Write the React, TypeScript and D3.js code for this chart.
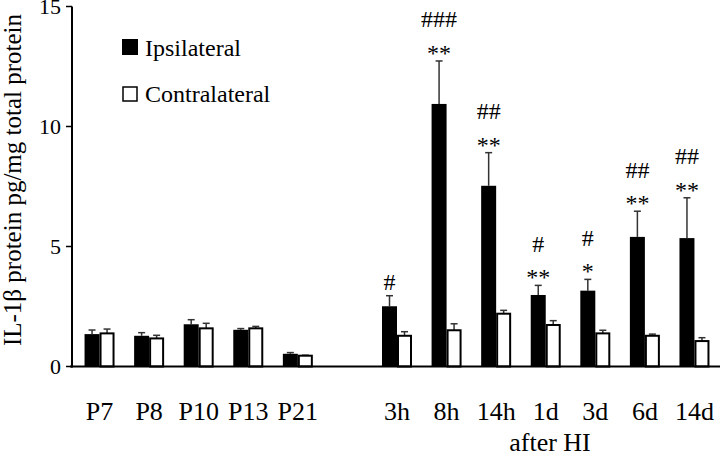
import React from "react";
import * as d3 from "d3";

const categories = ["P7", "P8", "P10", "P13", "P21", "3h", "8h", "14h", "1d", "3d", "6d", "14d"];
const ipsi = [1.35, 1.28, 1.76, 1.53, 0.53, 2.51, 10.94, 7.53, 2.98, 3.16, 5.4, 5.35];
const ipsiErr = [0.17, 0.13, 0.19, 0.05, 0.05, 0.44, 1.79, 1.38, 0.4, 0.47, 1.07, 1.68];
const contra = [1.38, 1.17, 1.59, 1.59, 0.45, 1.28, 1.51, 2.2, 1.73, 1.38, 1.28, 1.06];
const contraErr = [0.18, 0.13, 0.21, 0.08, 0.02, 0.17, 0.27, 0.14, 0.18, 0.13, 0.07, 0.14];
const stars = ["", "", "", "", "", "", "**", "**", "**", "*", "**", "**"];
const hashes = ["", "", "", "", "", "#", "###", "##", "#", "#", "##", "##"];
const yTicks = [0, 5, 10, 15];
const seriesNames = ["Ipsilateral", "Contralateral"];
const yLabel = "IL-1β protein pg/mg total protein";
const groupLabel = "after HI";

const W = 720;
const H = 456;
const FONT = "'Liberation Serif', 'Times New Roman', serif";

export default function App() {
  const slots = [...categories.slice(0, 5), "_gap", ...categories.slice(5)];
  const x = d3.scaleBand<string>().domain(slots).range([72, 722]).paddingInner(0.395).paddingOuter(0.253);
  const inner = d3.scaleBand<string>().domain(["ipsi", "contra"]).range([0, x.bandwidth()]);
  const y = d3.scaleLinear().domain([0, 15]).range([366.5, 6.5]);
  const bw = inner.bandwidth();

  return (
    <svg width={W} height={H} style={{ position: "absolute", left: 0, top: 0, background: "#fff" }} fontFamily={FONT}>
      <rect x={0} y={0} width={W} height={H} fill="#fff" />
      {/* y axis */}
      <line x1={72} x2={72} y1={y(15)} y2={y(0) + 1} stroke="#000" strokeWidth={2} />
      {yTicks.map((t) => (
        <g key={t}>
          <line x1={66} x2={72} y1={y(t)} y2={y(t)} stroke="#000" strokeWidth={1.5} />
          <text x={61} y={y(t)} dy="0.34em" textAnchor="end" fontSize={22} fill="#000">
            {t}
          </text>
        </g>
      ))}
      <text
        transform={`translate(21, ${180}) rotate(-90)`}
        textAnchor="middle"
        fontSize={25}
        fill="#000"
      >
        {yLabel}
      </text>

      {/* bars */}
      {categories.map((c, i) => {
        const x0 = x(c)!;
        const bx = x0 + inner("ipsi")!;
        const wx = x0 + inner("contra")!;
        const topI = y(ipsi[i] + ipsiErr[i]);
        const topC = y(contra[i] + contraErr[i]);
        const cxI = bx + bw / 2;
        const cxC = wx + bw / 2;
        const starBase = topI;
        const hashBase = stars[i] ? topI - 33.5 : topI - 6;
        return (
          <g key={c}>
            <line x1={cxI} x2={cxI} y1={y(ipsi[i])} y2={topI} stroke="#333" strokeWidth={1.5} />
            <line x1={cxI - 3.5} x2={cxI + 3.5} y1={topI} y2={topI} stroke="#333" strokeWidth={1.5} />
            <line x1={cxC} x2={cxC} y1={y(contra[i])} y2={topC} stroke="#333" strokeWidth={1.5} />
            <line x1={cxC - 3.5} x2={cxC + 3.5} y1={topC} y2={topC} stroke="#333" strokeWidth={1.5} />
            <rect x={bx} y={y(ipsi[i])} width={bw} height={y(0) - y(ipsi[i])} fill="#000" />
            <rect
              x={wx + 1}
              y={y(contra[i])}
              width={bw - 2}
              height={y(0) - y(contra[i])}
              fill="#fff"
              stroke="#000"
              strokeWidth={2}
            />
            {stars[i] && (
              <text x={cxI} y={starBase} textAnchor="middle" fontSize={24} fill="#000">
                {stars[i]}
              </text>
            )}
            {hashes[i] && (
              <text x={cxI} y={hashBase} textAnchor="middle" fontSize={24} fill="#000">
                {hashes[i]}
              </text>
            )}
            <text x={x0 + x.bandwidth() / 2} y={420} textAnchor="middle" fontSize={26} fill="#000">
              {c}
            </text>
          </g>
        );
      })}

      {/* x axis */}
      <line x1={70} x2={720} y1={y(0)} y2={y(0)} stroke="#000" strokeWidth={2} />
      <text x={550} y={451} textAnchor="middle" fontSize={26} fill="#000">
        {groupLabel}
      </text>

      {/* legend */}
      <rect x={122} y={39} width={16} height={16} fill="#000" />
      <text x={145} y={56} fontSize={24} fill="#000">
        {seriesNames[0]}
      </text>
      <rect x={123} y={87} width={14} height={14} fill="#fff" stroke="#000" strokeWidth={1.5} />
      <text x={145} y={101.5} fontSize={24} fill="#000">
        {seriesNames[1]}
      </text>
    </svg>
  );
}
